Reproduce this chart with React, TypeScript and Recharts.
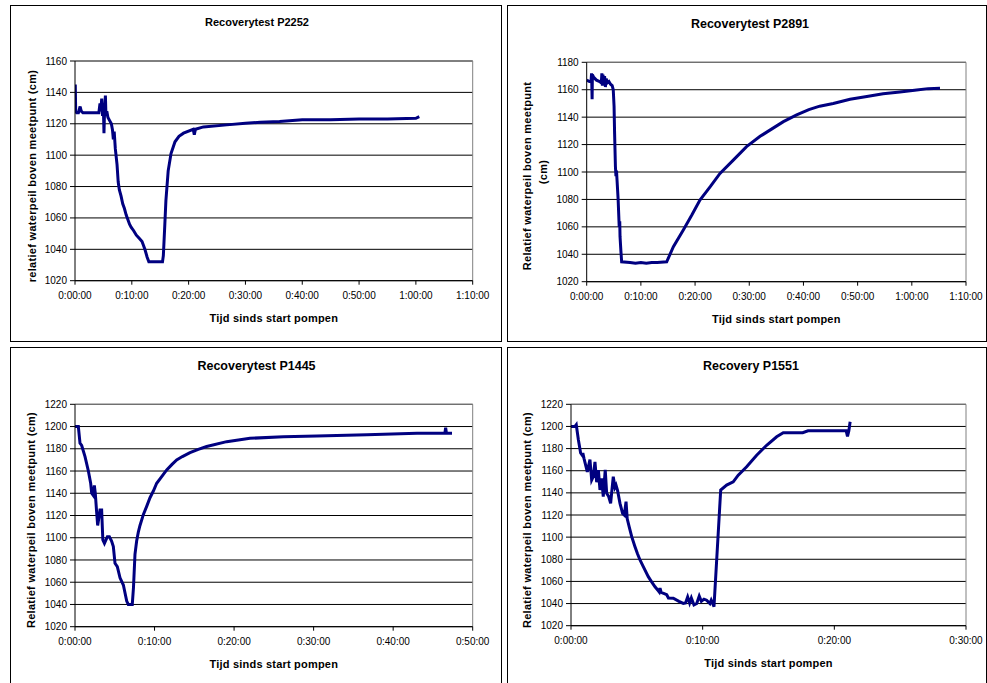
import React from 'react';
import { LineChart, Line, XAxis, YAxis, CartesianGrid, ReferenceLine } from 'recharts';

// ---------- DATA (time in minutes since pump start, level in cm) ----------
const P2252_TIME = [0, 0.05, 0.12, 0.3, 0.6, 0.9, 1.1, 1.4, 4.2, 4.4, 4.55, 4.7, 4.85, 5.0, 5.1, 5.2, 5.35, 5.45, 5.6, 5.8, 6.1, 6.4, 6.6, 6.75, 6.9, 7.1, 7.4, 7.6, 7.8, 8.1, 8.4, 8.7, 9.0, 9.3, 9.6, 9.9, 10.3, 10.8, 11.3, 11.8, 12.3, 12.7, 13.0, 15.4, 15.55, 15.8, 16.0, 16.4, 16.9, 17.6, 18.3, 19.1, 20.8, 21.0, 21.2, 22.6, 26.7, 30, 32.6, 36, 40, 45, 50, 55, 60, 60.6];
const P2252_LEVEL = [1127, 1145, 1128, 1127, 1127, 1131, 1128, 1127, 1127, 1133, 1128, 1136, 1125, 1130, 1114, 1128, 1138, 1125, 1128, 1124, 1122, 1120, 1116, 1110, 1115, 1104, 1094, 1083, 1078, 1074, 1069, 1066, 1062, 1059, 1056, 1054, 1052, 1049, 1047, 1045, 1040, 1035, 1032, 1032, 1036, 1055, 1071, 1090, 1101, 1108.5, 1112, 1114, 1116.5, 1113, 1116.5, 1118, 1119.3, 1120.3, 1121, 1121.5, 1122.5, 1122.5, 1123, 1123, 1123.5, 1124.5];

const P2891_TIME = [0, 0.5, 0.8, 0.9, 1.0, 1.05, 1.3, 1.8, 2.4, 2.7, 2.8, 2.9, 3.0, 3.15, 3.3, 3.45, 3.6, 3.8, 4.1, 4.4, 4.7, 4.9, 5.05, 5.15, 5.3, 5.4, 5.5, 5.6, 5.8, 6.0, 6.1, 6.15, 6.3, 6.45, 8, 9, 10, 11, 12, 13, 14.76, 16.0, 17.83, 19.4, 20.9, 22.8, 24.6, 27.1, 29.5, 32, 34.4, 36.3, 38.75, 41, 43, 45.5, 48.6, 51.7, 54.7, 57.8, 60.9, 63, 65.2];
const P2891_LEVEL = [1167, 1166, 1166, 1172, 1153, 1171, 1169, 1167, 1166, 1165, 1172, 1163, 1171, 1164, 1170, 1162, 1168, 1165, 1166, 1164, 1163, 1160, 1148, 1128, 1104, 1097, 1101, 1094, 1080, 1060, 1064, 1053, 1043, 1034.5, 1034, 1033.5, 1034, 1033.5, 1034, 1034, 1034.5, 1045.5, 1057.7, 1068.6, 1079.6, 1089.3, 1099, 1108.8, 1118.5, 1126, 1132, 1136.7, 1141.6, 1145.5, 1148, 1150, 1153, 1155, 1157, 1158.3, 1159.8, 1160.8, 1161];

const P1445_TIME = [0, 0.42, 0.63, 0.84, 1.26, 1.68, 1.97, 2.1, 2.3, 2.43, 2.55, 2.72, 2.85, 3.0, 3.14, 3.35, 3.5, 3.7, 4.07, 4.32, 4.6, 4.82, 5.03, 5.32, 5.66, 6.08, 6.5, 6.7, 7.2, 7.35, 7.54, 7.75, 7.96, 8.17, 8.6, 9.0, 9.43, 9.85, 10.27, 10.9, 11.53, 12.2, 12.78, 13.5, 14.46, 15.5, 16.55, 19.07, 22, 26.2, 30.4, 36.7, 43, 46.5, 46.6, 46.7, 47.4];
const P1445_LEVEL = [1200, 1200, 1185, 1183, 1173, 1160, 1149, 1140, 1138, 1147, 1140, 1123, 1111, 1118, 1125, 1125, 1098, 1095, 1101, 1101, 1097, 1092, 1077, 1074, 1064, 1057.5, 1043, 1040, 1040, 1055, 1085, 1097, 1105, 1111, 1121, 1128, 1136, 1142, 1149, 1155, 1161, 1166, 1170, 1173, 1176.5, 1179.5, 1182, 1186.4, 1189.4, 1190.9, 1191.5, 1192.7, 1194, 1194, 1199, 1194, 1194];

const P1551_TIME = [0, 0.3, 0.4, 0.56, 0.73, 0.85, 0.9, 0.99, 1.24, 1.44, 1.57, 1.7, 1.82, 1.95, 2.08, 2.2, 2.33, 2.45, 2.6, 2.71, 2.85, 3.01, 3.21, 3.34, 3.42, 3.54, 3.72, 3.92, 4.05, 4.18, 4.27, 4.45, 4.61, 4.86, 5.05, 5.24, 5.49, 5.87, 6.1, 6.38, 6.6, 6.7, 6.76, 6.85, 7.27, 7.4, 7.77, 8.2, 8.53, 8.7, 8.86, 9.01, 9.14, 9.34, 9.55, 9.74, 9.9, 10.1, 10.3, 10.55, 10.65, 10.86, 11.37, 11.82, 12.32, 12.7, 13.34, 14.1, 14.86, 15.62, 16.12, 17.6, 18.0, 18.6, 20.9, 21.0, 21.1, 21.2];
const P1551_LEVEL = [1200, 1200, 1201.5, 1188, 1176, 1174, 1176, 1171, 1159, 1170, 1151.6, 1155, 1168, 1149.6, 1160.6, 1142.6, 1153, 1136.6, 1160.7, 1139.6, 1137, 1130.5, 1154.6, 1145, 1147, 1142, 1130.5, 1121.5, 1120, 1132, 1116.5, 1108, 1100.4, 1091.4, 1085, 1079.4, 1073.3, 1064.3, 1060, 1055.2, 1052, 1050.5, 1054, 1050, 1048, 1045, 1044.8, 1042, 1040.2, 1040.5, 1046, 1040.5, 1045, 1038.7, 1040, 1046.8, 1042, 1044, 1043, 1040, 1043, 1037.2, 1142.6, 1147, 1150, 1156, 1163.6, 1174, 1183, 1190.7, 1194.3, 1194.3, 1196, 1196, 1196, 1191, 1196, 1204.3];

const X_TICKS_70 = [0, 10, 20, 30, 40, 50, 60, 70];
const X_TICKS_50 = [0, 10, 20, 30, 40, 50];
const X_TICKS_30 = [0, 10, 20, 30];
const Y_TICKS_1160 = [1020, 1040, 1060, 1080, 1100, 1120, 1140, 1160];
const Y_TICKS_1180 = [1020, 1040, 1060, 1080, 1100, 1120, 1140, 1160, 1180];
const Y_TICKS_1220 = [1020, 1040, 1060, 1080, 1100, 1120, 1140, 1160, 1180, 1200, 1220];

const X_TITLE = 'Tijd sinds start pompen';

// ---------- helpers ----------
const FONT = '"Liberation Sans", Arial, Helvetica, sans-serif';
const LINE_COLOR = '#000080';

function toRows(times: number[], levels: number[]) {
  return times.map((t, i) => ({ t, v: levels[i] }));
}

function fmtTime(m: number) {
  const h = Math.floor(m / 60);
  const mm = Math.round(m % 60);
  return `${h}:${String(mm).padStart(2, '0')}:00`;
}

type Box = { l: number; t: number; r: number; b: number };
type Plot = { x0: number; x1: number; y0: number; y1: number };

interface PanelProps {
  box: Box;
  plot: Plot;
  times: number[];
  levels: number[];
  xTicks: number[];
  yTicks: number[];
  title: string;
  titleSize: number;
  titleX: number;
  titleY: number;
  yLabelLines: { text: string; x: number; y: number }[];
  xTitleY: number;
}

const YAW = 50;
const XAH = 30;

function Panel(p: PanelProps) {
  const { box, plot, times, levels, xTicks, yTicks } = p;
  const ox = box.l + 1;
  const oy = box.t + 1;
  const W = box.r - box.l - 1;
  const H = box.b - box.t - 1;
  const margin = {
    left: plot.x0 - ox - YAW,
    top: plot.y0 - oy,
    right: ox + W - plot.x1,
    bottom: oy + H - plot.y1 - XAH,
  };
  const xMax = xTicks[xTicks.length - 1];
  const yMin = yTicks[0];
  const yMax = yTicks[yTicks.length - 1];
  const data = toRows(times, levels);
  const textBase: React.CSSProperties = {
    position: 'absolute',
    fontFamily: FONT,
    fontWeight: 'bold',
    color: '#000',
    whiteSpace: 'nowrap',
    lineHeight: 1,
  };
  return (
    <>
      <div
        style={{
          position: 'absolute',
          left: box.l,
          top: box.t,
          width: box.r - box.l + 1,
          height: box.b - box.t + 1,
          border: '1px solid #000',
          boxSizing: 'border-box',
        }}
      />
      <div style={{ position: 'absolute', left: ox, top: oy, width: W, height: H }}>
        <LineChart width={W} height={H} data={data} margin={margin}>
          <CartesianGrid vertical={false} stroke="#000" strokeWidth={1} />
          <XAxis
            dataKey="t"
            type="number"
            domain={[0, xMax]}
            ticks={xTicks}
            interval={0}
            allowDataOverflow
            tickFormatter={fmtTime}
            height={XAH}
            tickSize={4}
            tickMargin={7}
            stroke="#000"
            tick={{ fontSize: 10, fill: '#000', fontFamily: FONT }}
          />
          <YAxis
            type="number"
            domain={[yMin, yMax]}
            ticks={yTicks}
            interval={0}
            allowDataOverflow
            width={YAW}
            tickSize={5}
            tickMargin={3}
            stroke="#000"
            tick={{ fontSize: 10, fill: '#000', fontFamily: FONT }}
          />
          <ReferenceLine y={yMax} stroke="#808080" strokeWidth={1} />
          <ReferenceLine x={xMax} stroke="#808080" strokeWidth={1} />
          <Line
            type="linear"
            dataKey="v"
            stroke={LINE_COLOR}
            strokeWidth={3}
            dot={false}
            activeDot={false}
            isAnimationActive={false}
          />
        </LineChart>
      </div>
      <div
        style={{
          ...textBase,
          left: p.titleX,
          top: p.titleY,
          fontSize: p.titleSize,
          transform: 'translate(-50%, -50%)',
        }}
      >
        {p.title}
      </div>
      <div
        style={{
          ...textBase,
          left: (plot.x0 + plot.x1) / 2,
          top: p.xTitleY,
          fontSize: 11,
          letterSpacing: 0.2,
          transform: 'translate(-50%, -50%)',
        }}
      >
        {X_TITLE}
      </div>
      {p.yLabelLines.map((ln, i) => (
        <div
          key={i}
          style={{
            ...textBase,
            left: ln.x,
            top: ln.y,
            fontSize: 11,
            letterSpacing: 0.3,
            transform: 'translate(-50%, -50%) rotate(-90deg)',
          }}
        >
          {ln.text}
        </div>
      ))}
    </>
  );
}

export default function App() {
  return (
    <div
      style={{
        position: 'absolute',
        left: 0,
        top: 0,
        width: 987,
        height: 683,
        background: '#fff',
        overflow: 'hidden',
      }}
    >
      <Panel
        box={{ l: 10, t: 5, r: 501, b: 341 }}
        plot={{ x0: 75, x1: 472.7, y0: 61, y1: 280.7 }}
        times={P2252_TIME}
        levels={P2252_LEVEL}
        xTicks={X_TICKS_70}
        yTicks={Y_TICKS_1160}
        title="Recoverytest P2252"
        titleSize={11}
        titleX={257}
        titleY={22}
        yLabelLines={[{ text: 'relatief waterpeil boven meetpunt (cm)', x: 32, y: 176 }]}
        xTitleY={318}
      />
      <Panel
        box={{ l: 507, t: 5, r: 986, b: 341 }}
        plot={{ x0: 586.7, x1: 966, y0: 62.3, y1: 281.7 }}
        times={P2891_TIME}
        levels={P2891_LEVEL}
        xTicks={X_TICKS_70}
        yTicks={Y_TICKS_1180}
        title="Recoverytest P2891"
        titleSize={12.5}
        titleX={750}
        titleY={23.5}
        yLabelLines={[
          { text: 'Relatief  waterpeil boven meetpunt', x: 527, y: 176 },
          { text: '(cm)', x: 543, y: 172 },
        ]}
        xTitleY={319}
      />
      <Panel
        box={{ l: 10, t: 347, r: 501, b: 690 }}
        plot={{ x0: 75, x1: 472.7, y0: 404.3, y1: 626.7 }}
        times={P1445_TIME}
        levels={P1445_LEVEL}
        xTicks={X_TICKS_50}
        yTicks={Y_TICKS_1220}
        title="Recoverytest P1445"
        titleSize={12.5}
        titleX={256.5}
        titleY={366}
        yLabelLines={[{ text: 'Relatief waterpeil boven meetpunt (cm)', x: 31, y: 520 }]}
        xTitleY={664}
      />
      <Panel
        box={{ l: 507, t: 347, r: 986, b: 690 }}
        plot={{ x0: 571, x1: 966, y0: 404.3, y1: 625.7 }}
        times={P1551_TIME}
        levels={P1551_LEVEL}
        xTicks={X_TICKS_30}
        yTicks={Y_TICKS_1220}
        title="Recovery P1551"
        titleSize={12.5}
        titleX={751}
        titleY={366}
        yLabelLines={[{ text: 'Relatief waterpeil boven meetpunt (cm)', x: 527, y: 520 }]}
        xTitleY={663}
      />
    </div>
  );
}
